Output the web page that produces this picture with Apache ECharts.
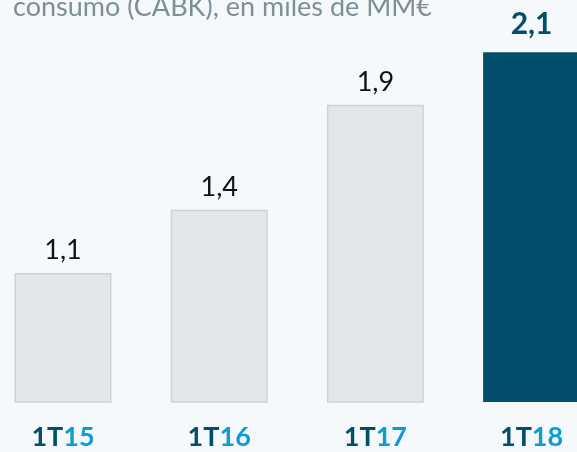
<!DOCTYPE html>
<html>
<head>
<meta charset="utf-8">
<script src="https://cdn.jsdelivr.net/npm/echarts@6/dist/echarts.min.js"></script>
<style>
  html, body { margin: 0; padding: 0; background: #f5f9fc; }
  #chart { width: 577px; height: 452px; }
</style>
</head>
<body>
<div id="chart"></div>
<script>
// Data
var categories = ['1T15', '1T16', '1T17', '1T18'];
var values = [1.09, 1.38, 1.86, 2.10];
var titleText = 'consumo (CABK), en miles de MM€';

var navy = '#034f6b';
var lightBlue = '#0d9bd6';
var greyFill = '#e3e7ea';
var greyBorder = '#ccd3d7';

function fmt(v) { return v.toFixed(1).replace('.', ','); }

var seriesData = values.map(function (v, i) {
  var last = i === values.length - 1;
  return {
    value: v,
    itemStyle: last
      ? { color: navy, borderWidth: 0 }
      : { color: greyFill, borderColor: greyBorder, borderWidth: 1.5 },
    label: last
      ? { fontSize: 30, fontWeight: 'bold', color: navy, distance: 13 }
      : { fontSize: 27, fontWeight: 'normal', color: '#111111', distance: 9 }
  };
});

var chart = echarts.init(document.getElementById('chart'), null, { renderer: 'canvas' });
chart.setOption({
  backgroundColor: '#f5f9fc',
  animation: false,
  graphic: [{
    type: 'text',
    left: 13,
    top: -6,
    style: {
      text: titleText,
      fontFamily: 'Lato',
      fontSize: 27,
      fill: '#7b909b'
    }
  }],
  grid: {
    left: -15.1, right: -32.7, top: 52.3, bottom: 50,
    containLabel: false, outerBoundsMode: 'none'
  },
  xAxis: {
    type: 'category',
    data: categories,
    axisLine: { show: false },
    axisTick: { show: false },
    axisLabel: {
      margin: 22,
      formatter: function (v) {
        return '{a|' + v.slice(0, 2) + '}{b|' + v.slice(2) + '}';
      },
      rich: {
        a: { fontFamily: 'Lato', fontWeight: 'bold', fontSize: 27, color: navy },
        b: { fontFamily: 'Lato', fontWeight: 'bold', fontSize: 27, color: lightBlue }
      }
    }
  },
  yAxis: {
    type: 'value',
    min: 0.5,
    max: 2.1,
    show: false,
    splitLine: { show: false }
  },
  series: [{
    type: 'bar',
    data: seriesData,
    barWidth: 97,
    label: {
      show: true,
      position: 'top',
      fontFamily: 'Lato',
      formatter: function (p) { return fmt(p.value); }
    }
  }]
});
</script>
</body>
</html>
